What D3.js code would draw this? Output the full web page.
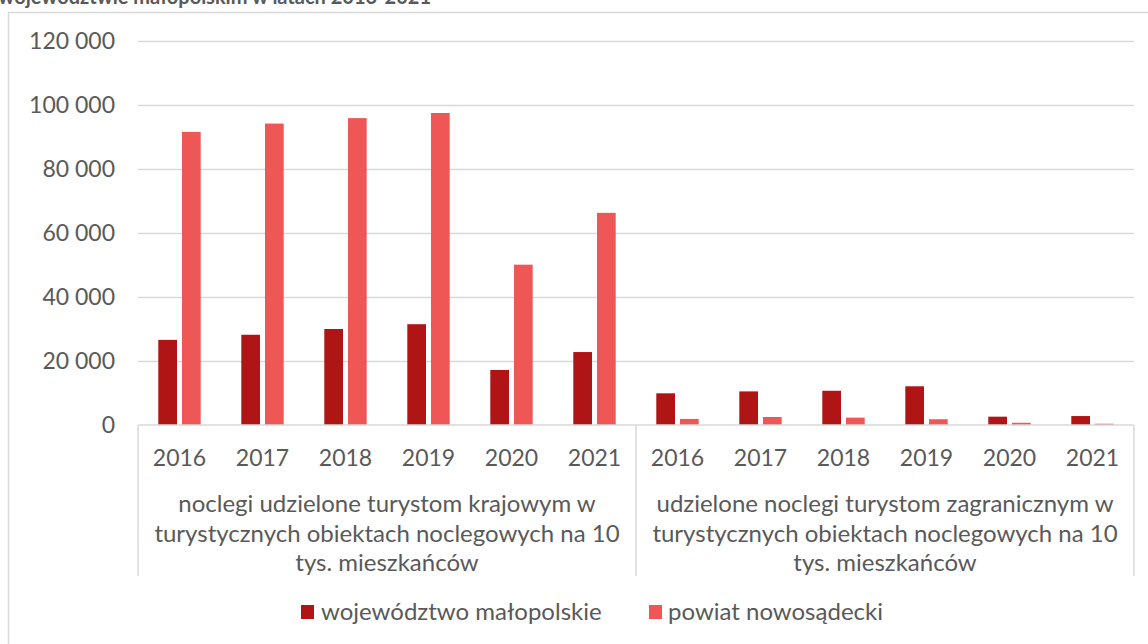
<!DOCTYPE html>
<html>
<head>
<meta charset="utf-8">
<script src="https://cdn.jsdelivr.net/npm/d3@7"></script>
<style>
  html, body { margin: 0; padding: 0; background: #fff; }
  svg { display: block; font-family: Lato, "Open Sans", sans-serif; }
</style>
</head>
<body>
<svg id="chart" width="1148" height="644"></svg>
<script>
// Years shown in each of the two indicator groups
const years = ["2016", "2017", "2018", "2019", "2020", "2021"];
const groups = [
  ["noclegi udzielone turystom krajowym w", "turystycznych obiektach noclegowych na 10", "tys. mieszkańców"],
  ["udzielone noclegi turystom zagranicznym w", "turystycznych obiektach noclegowych na 10", "tys. mieszkańców"]
];
const seriesNames = ["województwo małopolskie", "powiat nowosądecki"];
const seriesColors = ["#AF1515", "#EF5757"];

// Nights per 10k inhabitants – domestic tourists (group 1), foreign tourists (group 2)
const malopolskieDomestic = [26600, 28200, 30000, 31500, 17200, 22800];
const nowosadeckiDomestic = [91600, 94200, 95900, 97500, 50100, 66300];
const malopolskieForeign = [9900, 10500, 10700, 12100, 2600, 2800];
const nowosadeckiForeign = [1900, 2500, 2300, 1800, 700, 400];

const yTicks = [0, 20000, 40000, 60000, 80000, 100000, 120000];
const titleText = "w województwie małopolskim w latach 2016-2021";

const series0 = malopolskieDomestic.concat(malopolskieForeign);
const series1 = nowosadeckiDomestic.concat(nowosadeckiForeign);
const cats = [];
groups.forEach((g, gi) => years.forEach((y, yi) => {
  cats.push({ key: gi + "-" + y, year: y, group: gi, vals: [series0[gi * 6 + yi], series1[gi * 6 + yi]] });
}));

const svg = d3.select("#chart");
const grey = "#595959";
const lineCol = "#d9d9d9";

const plot = { left: 138, right: 1134, top: 41, bottom: 425 };

const x0 = d3.scaleBand().domain(cats.map(d => d.key)).range([plot.left, plot.right]).paddingInner(0).paddingOuter(0);
const x1 = d3.scaleBand().domain([0, 1]).range([0, x0.bandwidth()]).paddingInner(0.211).paddingOuter(0.857);
const y = d3.scaleLinear().domain([0, 120000]).range([plot.bottom, plot.top]);

const fmt = d3.formatLocale({ decimal: ",", thousands: " ", grouping: [3], currency: ["", " zł"] }).format(",d");

// Outer chart frame
svg.append("rect").attr("x", 8.5).attr("y", 12.5).attr("width", 1200).attr("height", 700)
  .attr("fill", "none").attr("stroke", lineCol).attr("stroke-width", 1.5);

// Title (runs off the top of the canvas)
svg.append("text").attr("x", 431).attr("y", 3.5).attr("text-anchor", "end")
  .attr("font-size", 20).attr("font-weight", "bold").attr("fill", grey).text(titleText);

// Y axis: gridlines + labels
const yAxis = d3.axisLeft(y).tickValues(yTicks).tickFormat(fmt).tickSize(-(plot.right - plot.left)).tickPadding(23);
const gy = svg.append("g").attr("transform", `translate(${plot.left},0)`).call(yAxis);
gy.select(".domain").remove();
gy.selectAll(".tick line").attr("stroke", lineCol).attr("stroke-width", 1.5)
  .filter(d => d === 0).remove();
gy.selectAll(".tick text").attr("fill", grey).attr("font-size", 23).attr("font-family", "Lato");

// Bars
const cg = svg.append("g").selectAll("g").data(cats).join("g")
  .attr("transform", d => `translate(${x0(d.key)},0)`);
cg.selectAll("rect").data(d => d.vals.map((v, i) => ({ v, i }))).join("rect")
  .attr("x", d => x1(d.i))
  .attr("width", x1.bandwidth())
  .attr("y", d => y(d.v))
  .attr("height", d => y(0) - y(d.v))
  .attr("fill", d => seriesColors[d.i]);

// Category axis (two levels)
const axisBottom = 576;
const ax = svg.append("g").attr("stroke", lineCol).attr("stroke-width", 1.5);
ax.append("line").attr("x1", plot.left).attr("x2", plot.right).attr("y1", plot.bottom).attr("y2", plot.bottom);
const groupEdges = [x0(cats[0].key), x0(cats[6].key), x0(cats[11].key) + x0.bandwidth()];
groupEdges.forEach(gx => ax.append("line").attr("x1", gx).attr("x2", gx).attr("y1", plot.bottom).attr("y2", axisBottom));

svg.append("g").selectAll("text").data(cats).join("text")
  .attr("x", d => x0(d.key) + x0.bandwidth() / 2)
  .attr("y", 466)
  .attr("text-anchor", "middle").attr("font-size", 23).attr("fill", grey)
  .text(d => d.year);

groups.forEach((lines, gi) => {
  const cx = (groupEdges[gi] + groupEdges[gi + 1]) / 2;
  const t = svg.append("text").attr("text-anchor", "middle").attr("font-size", 24).attr("fill", grey);
  lines.forEach((ln, li) => {
    t.append("tspan").attr("x", cx).attr("y", 512 + li * 29.5).text(ln);
  });
});

// Legend
const legendItems = [{ x: 301, tx: 321 }, { x: 649, tx: 668 }];
const lg = svg.append("g");
seriesNames.forEach((name, i) => {
  lg.append("rect").attr("x", legendItems[i].x).attr("y", 605).attr("width", 13).attr("height", 14)
    .attr("fill", seriesColors[i]);
  lg.append("text").attr("x", legendItems[i].tx).attr("y", 620).attr("font-size", 24).attr("fill", grey).text(name);
});
</script>
</body>
</html>
